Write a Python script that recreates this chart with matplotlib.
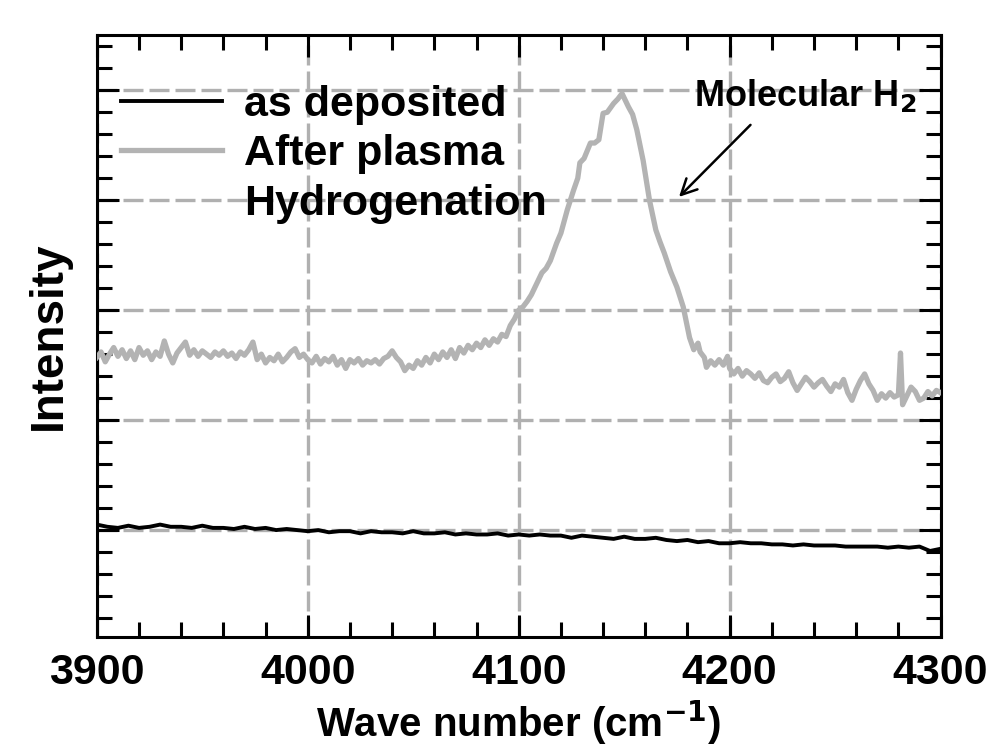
import matplotlib
matplotlib.use("Agg")
from matplotlib import pyplot as plt
from matplotlib.lines import Line2D
from matplotlib.ticker import MultipleLocator

plt.rcParams['font.family'] = ['Liberation Sans', 'DejaVu Sans']
plt.rcParams['font.weight'] = 'bold'
plt.rcParams['mathtext.default'] = 'bf'

# after plasma hydrogenation (gray)
wn_h = [3900, 3902, 3904, 3906, 3908, 3910, 3912, 3914, 3916, 3918, 3920, 3922,
        3924, 3926, 3928, 3930, 3932, 3934, 3936, 3938, 3940, 3942, 3944, 3946,
        3948, 3950, 3952, 3954, 3956, 3958, 3960, 3962, 3964, 3966, 3968, 3970,
        3972, 3974, 3976, 3978, 3980, 3982, 3984, 3986, 3988, 3990, 3992, 3994,
        3996, 3998, 4000, 4002, 4004, 4006, 4008, 4010, 4012, 4014, 4016, 4018,
        4020, 4022, 4024, 4026, 4028, 4030, 4032, 4034, 4036, 4038, 4040, 4042,
        4044, 4046, 4048, 4050, 4052, 4054, 4056, 4058, 4060, 4062, 4064, 4066,
        4068, 4070, 4072, 4074, 4076, 4078, 4080, 4082, 4084, 4086, 4088, 4090,
        4092, 4094, 4096, 4098, 4100,
        4102, 4104, 4106, 4108, 4111, 4113, 4115, 4118, 4120, 4123, 4126, 4128,
        4129, 4131, 4134, 4136, 4138, 4140, 4142, 4145, 4147, 4149, 4152, 4154,
        4156, 4159, 4162, 4165, 4167, 4169, 4172, 4175, 4178, 4181,
        4183, 4185, 4186, 4188, 4189, 4191, 4193, 4195, 4197, 4199, 4200, 4202,
        4204, 4206, 4208, 4210, 4212, 4214, 4216, 4218, 4220, 4222, 4224, 4226,
        4228, 4230, 4232, 4234, 4236, 4238, 4240, 4242, 4244, 4246, 4248, 4250,
        4252, 4254, 4256, 4258, 4260, 4262, 4264, 4266, 4268, 4270, 4272, 4274,
        4276, 4278, 4280, 4281, 4282, 4284, 4286, 4288, 4290, 4292, 4294, 4296,
        4298, 4300]
int_h = [2.57, 2.62, 2.53, 2.60, 2.66, 2.58, 2.64, 2.56, 2.63, 2.55, 2.66, 2.59,
         2.63, 2.55, 2.62, 2.58, 2.72, 2.60, 2.52, 2.61, 2.66, 2.71, 2.59, 2.64,
         2.58, 2.63, 2.60, 2.57, 2.62, 2.59, 2.63, 2.58, 2.61, 2.56, 2.62, 2.59,
         2.64, 2.71, 2.55, 2.60, 2.52, 2.57, 2.54, 2.60, 2.53, 2.57, 2.62, 2.65,
         2.57, 2.60, 2.55, 2.52, 2.58, 2.51, 2.56, 2.53, 2.58, 2.50, 2.55, 2.47,
         2.55, 2.52, 2.56, 2.50, 2.54, 2.52, 2.55, 2.51, 2.56, 2.58, 2.63, 2.57,
         2.53, 2.45, 2.50, 2.47, 2.54, 2.50, 2.57, 2.52, 2.60, 2.55, 2.62, 2.57,
         2.64, 2.56, 2.66, 2.61, 2.68, 2.64, 2.70, 2.66, 2.73, 2.68, 2.74, 2.71,
         2.78, 2.76, 2.86, 2.92, 3.00,
         3.03, 3.08, 3.14, 3.22, 3.34, 3.38, 3.45, 3.61, 3.70, 3.91, 4.09, 4.20,
         4.34, 4.38, 4.52, 4.52, 4.55, 4.79, 4.80, 4.88, 4.92, 4.97, 4.85, 4.78,
         4.64, 4.36, 4.00, 3.73, 3.62, 3.52, 3.35, 3.21, 3.03, 2.75,
         2.64, 2.70, 2.62, 2.57, 2.48, 2.54, 2.50, 2.55, 2.50, 2.58, 2.47, 2.42,
         2.47, 2.40, 2.45, 2.42, 2.38, 2.43, 2.36, 2.34, 2.39, 2.42, 2.35, 2.38,
         2.44, 2.34, 2.27, 2.33, 2.39, 2.35, 2.30, 2.34, 2.37, 2.31, 2.26, 2.33,
         2.30, 2.37, 2.25, 2.18, 2.28, 2.36, 2.42, 2.33, 2.27, 2.18, 2.24, 2.20,
         2.25, 2.21, 2.23, 2.61, 2.14, 2.22, 2.30, 2.26, 2.18, 2.20, 2.26, 2.22,
         2.27, 2.25]

# as deposited (black)
wn_d = list(range(3900, 4301, 5))
int_d = [1.05, 1.03, 1.02, 1.04, 1.02, 1.03, 1.05, 1.03, 1.03, 1.02, 1.04, 1.02,
         1.02, 1.01, 1.03, 1.01, 1.02, 1.00, 1.01, 1.00, 0.99, 1.00, 0.98, 0.99,
         0.99, 0.97, 0.99, 0.98, 0.98, 0.97, 0.99, 0.97, 0.97, 0.98, 0.96, 0.97,
         0.96, 0.96, 0.97, 0.95, 0.96, 0.95, 0.96, 0.95, 0.95, 0.93, 0.95, 0.94,
         0.93, 0.92, 0.94, 0.92, 0.92, 0.93, 0.91, 0.90, 0.91, 0.89, 0.90, 0.88,
         0.88, 0.89, 0.88, 0.88, 0.87, 0.87, 0.86, 0.87, 0.86, 0.86, 0.86, 0.85,
         0.85, 0.85, 0.85, 0.84, 0.85, 0.84, 0.85, 0.81, 0.83]

xticks = [3900, 4000, 4100, 4200, 4300]

fig = plt.figure(figsize=(9.88, 7.5), dpi=100)
ax = fig.add_axes([0.098, 0.151, 0.854, 0.802])

ax.plot(wn_h, int_h, color='#b3b3b3', lw=3.8, zorder=3)
ax.plot(wn_d, int_d, color='black', lw=2.8, zorder=3)

ax.set_xlim(3900, 4300)
ax.set_ylim(0.03, 5.5)
ax.set_xticks(xticks)
ax.xaxis.set_minor_locator(MultipleLocator(20))
ax.yaxis.set_major_locator(MultipleLocator(1))
ax.yaxis.set_minor_locator(MultipleLocator(0.2))
ax.set_yticklabels([])

ax.tick_params(which='both', direction='in', top=True, right=True, width=2.2,
               labelsize=31, pad=12)
ax.tick_params(which='major', length=16)
ax.tick_params(which='minor', length=11)
for s in ax.spines.values():
    s.set_linewidth(2.2)

ax.grid(True, which='major', color='#b0b0b0', lw=2.4, linestyle=(0, (6, 1.8)), zorder=0)
ax.set_axisbelow(True)

ax.set_xlabel('Wave number (cm$^{-1}$)', fontsize=29, fontweight='bold', labelpad=4)
ax.set_ylabel('Intensity', fontsize=33, fontweight='bold')
ax.yaxis.set_label_coords(-0.031, 0.5)

handles = [Line2D([], [], color='black', lw=2.8),
           Line2D([], [], color='#b3b3b3', lw=3.8),
           Line2D([], [], color='none')]
ax.legend(handles, ['as deposited', 'After plasma', 'Hydrogenation'],
          loc='upper left', bbox_to_anchor=(0.029, 0.918), frameon=False,
          fontsize=31, handlelength=2.35, handletextpad=0.5, labelspacing=0.23,
          borderpad=0, borderaxespad=0)

ax.annotate('Molecular H$_2$', xy=(4176, 4.03), xytext=(4236, 4.95),
            fontsize=26, ha='center', va='center',
            arrowprops=dict(arrowstyle='->', color='black', lw=1.8,
                            relpos=(0.3, 0), shrinkA=8, shrinkB=0,
                            mutation_scale=28))

fig.savefig('out.png', dpi=100)
